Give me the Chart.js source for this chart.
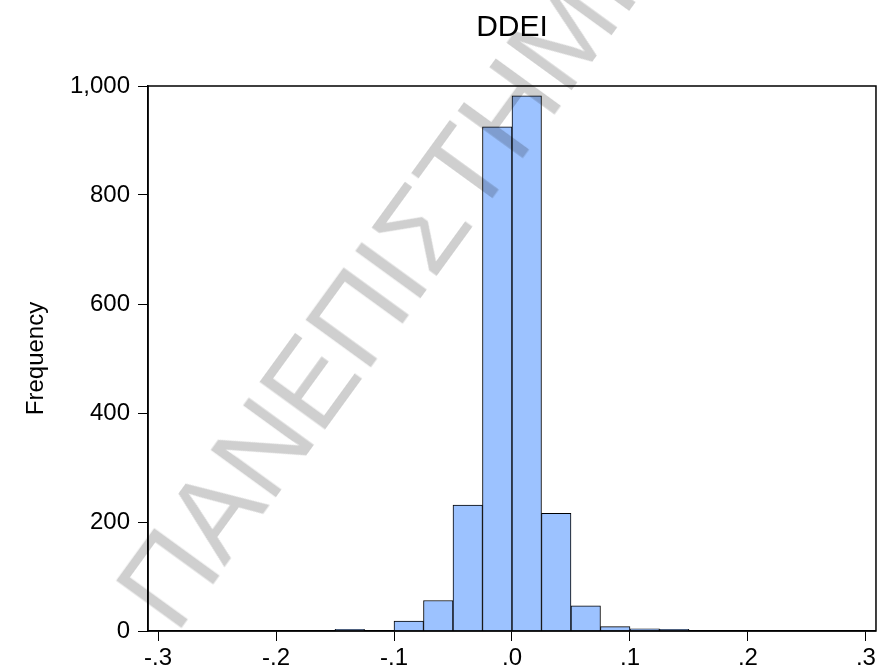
<!DOCTYPE html>
<html>
<head>
<meta charset="utf-8">
<script src="https://cdn.jsdelivr.net/npm/chart.js@4/dist/chart.umd.min.js"></script>
<style>
    html, body { margin: 0; padding: 0; background: #fff; overflow: hidden; }
    #wrap { position: relative; width: 879px; height: 669px; overflow: hidden; }
    #watermark {
        position: absolute;
        left: 190px;
        top: 530px;
        font-family: "Liberation Sans", Arial, sans-serif;
        font-size: 116px;
        line-height: 116px;
        color: rgba(0, 0, 0, 0.19);
        white-space: nowrap;
        transform-origin: 0 100%;
        transform: rotate(-54deg);
        pointer-events: none;
    }
</style>
</head>
<body>
<div id="wrap">
    <canvas id="myChart" width="879" height="669"></canvas>
    <div id="watermark">ΠΑΝΕΠΙΣΤΗΜΙΟ</div>
</div>
<script>
// histogram of DDEI, bins of width .025 (centres)
const binCenters = [-0.1375, -0.1125, -0.0875, -0.0625, -0.0375, -0.0125, 0.0125, 0.0375, 0.0625, 0.0875, 0.1125, 0.1375];
const frequencies = [3, 0, 18, 56, 231, 925, 982, 216, 46, 8, 4, 3];
const xTicks = [-0.3, -0.2, -0.1, 0, 0.1, 0.2, 0.3];
const yTicks = [0, 200, 400, 600, 800, 1000];

const fontFamily = '"Liberation Sans", Arial, sans-serif';

const frame = {
    id: 'frame',
    afterDatasetsDraw(chart) {
        const a = chart.chartArea;
        const ctx = chart.ctx;
        ctx.save();
        ctx.strokeStyle = '#000';
        ctx.lineWidth = 1.5;
        ctx.strokeRect(a.left, a.top, a.right - a.left, a.bottom - a.top);
        ctx.restore();
    }
};

const points = binCenters.map((x, i) => ({ x: x, y: frequencies[i] }));

const ctx = document.getElementById('myChart').getContext('2d');
const chart = new Chart(ctx, {
    type: 'bar',
    data: {
        datasets: [{
            data: points,
            backgroundColor: '#9cc2ff',
            borderColor: '#000',
            borderWidth: 1,
            barPercentage: 1,
            categoryPercentage: 1
        }]
    },
    options: {
        responsive: false,
        animation: false,
        layout: { padding: { left: 0, right: 2, top: 0, bottom: 0 } },
        plugins: {
            legend: { display: false },
            tooltip: { enabled: false },
            title: {
                display: true,
                fullSize: false,
                text: 'DDEI',
                color: '#000',
                font: { family: fontFamily, size: 30, weight: 'normal' },
                padding: { top: 10, bottom: 40 }
            }
        },
        scales: {
            x: {
                type: 'linear',
                offset: false,
                min: -0.3085,
                max: 0.3085,
                afterBuildTicks: (scale) => { scale.ticks = xTicks.map(v => ({ value: v })); },
                afterFit: (scale) => { scale.height = 38; },
                grid: { display: true, offset: false, drawOnChartArea: false, drawTicks: true, tickLength: 10, tickColor: '#000' },
                border: { display: true, color: '#000', width: 1.5 },
                ticks: {
                    color: '#000',
                    padding: 3,
                    maxRotation: 0,
                    font: { family: fontFamily, size: 24 },
                    callback: (v) => (v < 0 ? '-' : '') + '.' + Math.round(Math.abs(v) * 10)
                }
            },
            y: {
                min: 0,
                max: 1000,
                afterBuildTicks: (scale) => { scale.ticks = yTicks.map(v => ({ value: v })); },
                afterFit: (scale) => { scale.width = 148; },
                grid: { display: true, drawOnChartArea: false, drawTicks: true, tickLength: 10, tickColor: '#000' },
                border: { display: true, color: '#000', width: 1.5 },
                title: {
                    display: true,
                    text: 'Frequency',
                    color: '#000',
                    font: { family: fontFamily, size: 24 },
                    padding: { top: 22, bottom: 0 }
                },
                ticks: {
                    color: '#000',
                    padding: 8,
                    font: { family: fontFamily, size: 24 },
                    callback: (v) => v.toLocaleString('en-US')
                }
            }
        }
    },
    plugins: [frame]
});
</script>
</body>
</html>
